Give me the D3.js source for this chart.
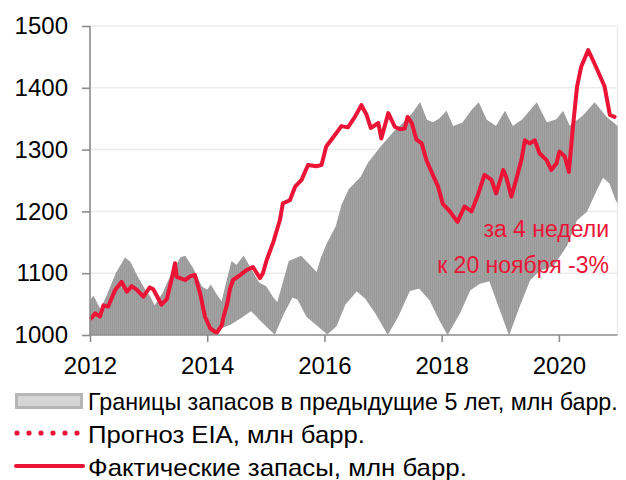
<!DOCTYPE html>
<html>
<head>
<meta charset="utf-8">
<script src="https://cdn.jsdelivr.net/npm/d3@7"></script>
<style>
  html, body { margin: 0; padding: 0; background: #ffffff; }
  svg { display: block; }
  text { font-family: "Liberation Sans", Arial, sans-serif; }
</style>
</head>
<body>
<svg id="chart" width="626" height="480"></svg>
<script>
// Weekly commercial stocks, million barrels (sampled at decimal-year dates)
const actualYears = [
  2012.02, 2012.09, 2012.17, 2012.23, 2012.31, 2012.43, 2012.54, 2012.63, 2012.71, 2012.80,
  2012.91, 2013.02, 2013.08, 2013.22, 2013.31, 2013.39, 2013.45, 2013.48, 2013.62, 2013.71,
  2013.79, 2013.88, 2013.96, 2014.05, 2014.16, 2014.25, 2014.28, 2014.34, 2014.39, 2014.44,
  2014.56, 2014.67, 2014.78, 2014.90, 2014.95, 2015.01, 2015.13, 2015.24, 2015.29, 2015.41,
  2015.50, 2015.61, 2015.72, 2015.86, 2015.95, 2016.03, 2016.15, 2016.29, 2016.40, 2016.52,
  2016.63, 2016.72, 2016.79, 2016.92, 2016.97, 2017.09, 2017.20, 2017.29, 2017.37, 2017.42,
  2017.49, 2017.57, 2017.66, 2017.74, 2017.85, 2017.94, 2018.02, 2018.14, 2018.27, 2018.39,
  2018.51, 2018.62, 2018.73, 2018.85, 2018.93, 2019.05, 2019.10, 2019.19, 2019.27, 2019.36,
  2019.42, 2019.50, 2019.59, 2019.67, 2019.79, 2019.87, 2019.96, 2020.01, 2020.10, 2020.17,
  2020.24, 2020.31, 2020.38, 2020.50, 2020.58, 2020.67, 2020.78, 2020.87, 2020.95
];
const actualStocks = [
  1027, 1035, 1030, 1048, 1046, 1073, 1086, 1070, 1079, 1073,
  1062, 1077, 1074, 1049, 1058, 1089, 1116, 1094, 1089, 1095,
  1097, 1067, 1030, 1011, 1003, 1016, 1030, 1050, 1075, 1089,
  1097, 1105, 1110, 1092, 1100, 1120, 1151, 1186, 1213, 1218,
  1240, 1251, 1275, 1273, 1275, 1305, 1320, 1338, 1336, 1353,
  1372, 1356, 1335, 1343, 1318, 1359, 1337, 1333, 1334, 1353,
  1343, 1316, 1310, 1283, 1259, 1240, 1212, 1200, 1183, 1208,
  1200, 1227, 1259, 1251, 1229, 1267, 1256, 1224, 1251, 1283,
  1315, 1310, 1315, 1294, 1283, 1267, 1278, 1297, 1289, 1264,
  1337, 1402, 1434, 1461, 1445, 1426, 1402, 1356, 1353
];

// Previous five-year range: upper bound
const bandTopYears = [
  2012.00, 2012.06, 2012.12, 2012.18, 2012.30, 2012.45, 2012.60, 2012.68, 2012.80, 2012.92,
  2013.02, 2013.10, 2013.25, 2013.40, 2013.55, 2013.62, 2013.75, 2013.90, 2014.00, 2014.06,
  2014.15, 2014.25, 2014.32, 2014.42, 2014.50, 2014.62, 2014.75, 2014.88, 2015.00, 2015.12,
  2015.20, 2015.30, 2015.40, 2015.60, 2015.75, 2015.87, 2015.95, 2016.05, 2016.20, 2016.30,
  2016.42, 2016.52, 2016.63, 2016.75, 2016.97, 2017.20, 2017.43, 2017.51, 2017.63, 2017.74,
  2017.85, 2017.97, 2018.08, 2018.19, 2018.36, 2018.52, 2018.63, 2018.76, 2018.93, 2019.08,
  2019.21, 2019.38, 2019.62, 2019.79, 2019.96, 2020.07, 2020.18, 2020.40, 2020.61, 2020.80,
  2021.00
];
const bandTop = [
  1055, 1062, 1050, 1040, 1065, 1100, 1124, 1118, 1095, 1075,
  1062, 1046, 1068, 1100, 1125, 1127, 1108, 1078, 1072, 1080,
  1066, 1052, 1080, 1118, 1112, 1127, 1105, 1084, 1078, 1060,
  1051, 1085, 1119, 1127, 1112, 1100, 1125, 1148, 1175, 1210,
  1235, 1245, 1256, 1278, 1305, 1330, 1350, 1359, 1375, 1348,
  1343, 1350, 1361, 1337, 1343, 1364, 1375, 1348, 1337, 1361,
  1337, 1348, 1375, 1343, 1348, 1361, 1337, 1353, 1375, 1353,
  1337
];

// Previous five-year range: lower bound
const bandBottomYears = [
  2012.00, 2014.00, 2014.10, 2014.20, 2014.40, 2014.60, 2014.75, 2014.90, 2015.15, 2015.30,
  2015.45, 2015.55, 2015.70, 2015.85, 2016.05, 2016.20, 2016.35, 2016.55, 2016.70, 2016.88,
  2017.08, 2017.25, 2017.45, 2017.62, 2017.80, 2017.97, 2018.10, 2018.30, 2018.48, 2018.65,
  2018.82, 2018.98, 2019.15, 2019.32, 2019.50, 2019.67, 2019.90, 2020.13, 2020.30, 2020.47,
  2020.64, 2020.75, 2020.87, 2020.98, 2021.00
];
const bandBottom = [
  985, 985, 1000, 1010, 1018, 1030, 1040, 1025, 1002, 1035,
  1062, 1058, 1030, 1018, 1002, 1015, 1050, 1072, 1060, 1035,
  1002, 1030, 1072, 1076, 1057, 1024, 1002, 1035, 1073, 1084,
  1088, 1046, 1002, 1046, 1089, 1105, 1112, 1145, 1186, 1200,
  1235, 1256, 1246, 1218, 1215
];

const yTicks = [1000, 1100, 1200, 1300, 1400, 1500];
const xTicks = [2012, 2014, 2016, 2018, 2020];

const legendLabels = [
  "Границы запасов в предыдущие 5 лет, млн барр.",
  "Прогноз EIA, млн барр.",
  "Фактические запасы, млн барр."
];
const noteLines = ["за 4 недели", "к 20 ноября -3%"];

const RED = "#EB1436";

const svg = d3.select("#chart");
const plotLeft = 90, plotRight = 617.5, plotTop = 26, plotBottom = 335;

const x = d3.scaleLinear().domain([2012, 2021]).range([plotLeft, plotRight]);
const y = d3.scaleLinear().domain([1000, 1500]).range([plotBottom, plotTop]);

// fine vertical texture for the range band (weekly columns)
const defs = svg.append("defs");
const pat = defs.append("pattern")
  .attr("id", "bandStripes").attr("patternUnits", "userSpaceOnUse")
  .attr("width", 2).attr("height", 10);
pat.append("rect").attr("width", 2).attr("height", 10).attr("fill", "#a2a2a2");
pat.append("rect").attr("width", 1).attr("height", 10).attr("fill", "#9a9a9a");

defs.append("clipPath").attr("id", "plotClip")
  .append("rect").attr("x", plotLeft).attr("y", plotTop)
  .attr("width", plotRight - plotLeft).attr("height", plotBottom - plotTop);

// gridlines
svg.append("g").selectAll("line").data(yTicks.filter(d => d > 1000)).join("line")
  .attr("x1", plotLeft).attr("x2", plotRight)
  .attr("y1", d => y(d)).attr("y2", d => y(d))
  .attr("stroke", "#ebebeb").attr("stroke-width", 1.5);
svg.append("line")
  .attr("x1", plotRight).attr("x2", plotRight).attr("y1", plotTop).attr("y2", plotBottom)
  .attr("stroke", "#ebebeb").attr("stroke-width", 1.5);

const plot = svg.append("g").attr("clip-path", "url(#plotClip)");

// band polygon: upper edge forward, lower edge backward
const topPts = bandTopYears.map((t, i) => [x(t), y(bandTop[i])]);
const botPts = bandBottomYears.map((t, i) => [x(t), y(bandBottom[i])]).reverse();
const edge = d3.line().curve(d3.curveLinear);
plot.append("path")
  .attr("d", edge(topPts.concat(botPts)) + "Z")
  .attr("fill", "url(#bandStripes)")
  .attr("stroke", "#9e9e9e").attr("stroke-width", 1.2);

// actual stocks
const line = d3.line()
  .x((d, i) => x(actualYears[i]))
  .y(d => y(d))
  .curve(d3.curveLinear);
svg.append("path")
  .datum(actualStocks)
  .attr("d", line)
  .attr("fill", "none")
  .attr("stroke", RED)
  .attr("stroke-width", 4)
  .attr("stroke-linejoin", "round")
  .attr("stroke-linecap", "round");

// axes
const yAxis = svg.append("g").attr("transform", `translate(${plotLeft},0)`)
  .call(d3.axisLeft(y).tickValues(yTicks).tickSize(8).tickPadding(14).tickFormat(d3.format("d")));
const xAxis = svg.append("g").attr("transform", `translate(0,${plotBottom})`)
  .call(d3.axisBottom(x).tickValues(xTicks).tickSize(7).tickPadding(15).tickFormat(d3.format("d")));
[yAxis, xAxis].forEach(g => {
  g.select(".domain").attr("stroke", "#8c8c8c").attr("stroke-width", 1.6);
  g.selectAll(".tick line").attr("stroke", "#8c8c8c").attr("stroke-width", 1.6);
  g.selectAll(".tick text").attr("fill", "#000").attr("font-size", 24)
    .attr("font-family", "'Liberation Sans', Arial, sans-serif");
});
yAxis.select(".domain").attr("d", `M0,${plotBottom}V${plotTop}`);
xAxis.select(".domain").attr("d", `M${plotLeft},0H${plotRight}`);

// annotation
svg.append("g").selectAll("text").data(noteLines).join("text")
  .attr("x", 609).attr("y", (d, i) => 237 + i * 36)
  .attr("text-anchor", "end").attr("font-size", 23).attr("fill", RED)
  .text(d => d);

// legend
const lg = svg.append("g");
lg.append("rect").attr("x", 16.5).attr("y", 394.5).attr("width", 65).attr("height", 13)
  .attr("fill", "#d5d5d5").attr("stroke", "#b6b6b6").attr("stroke-width", 3);
lg.append("line").attr("x1", 17).attr("x2", 78).attr("y1", 433).attr("y2", 433)
  .attr("stroke", RED).attr("stroke-width", 5.2).attr("stroke-linecap", "round")
  .attr("stroke-dasharray", "0 12");
lg.append("line").attr("x1", 16).attr("x2", 83).attr("y1", 466).attr("y2", 466)
  .attr("stroke", RED).attr("stroke-width", 4).attr("stroke-linecap", "round");

// legend labels: fit each label horizontally to its width
const legendWidths = [530, 277, 379];
lg.selectAll("text.lbl").data(legendLabels).join("text")
  .attr("class", "lbl")
  .attr("x", 0).attr("y", 0)
  .attr("font-size", 24).attr("fill", "#000")
  .text(d => d)
  .each(function(d, i) {
    const natural = this.getComputedTextLength();
    const k = legendWidths[i] / natural;
    d3.select(this).attr("transform", `translate(88,${410 + i * 33}) scale(${k},1)`);
  });
</script>
</body>
</html>
